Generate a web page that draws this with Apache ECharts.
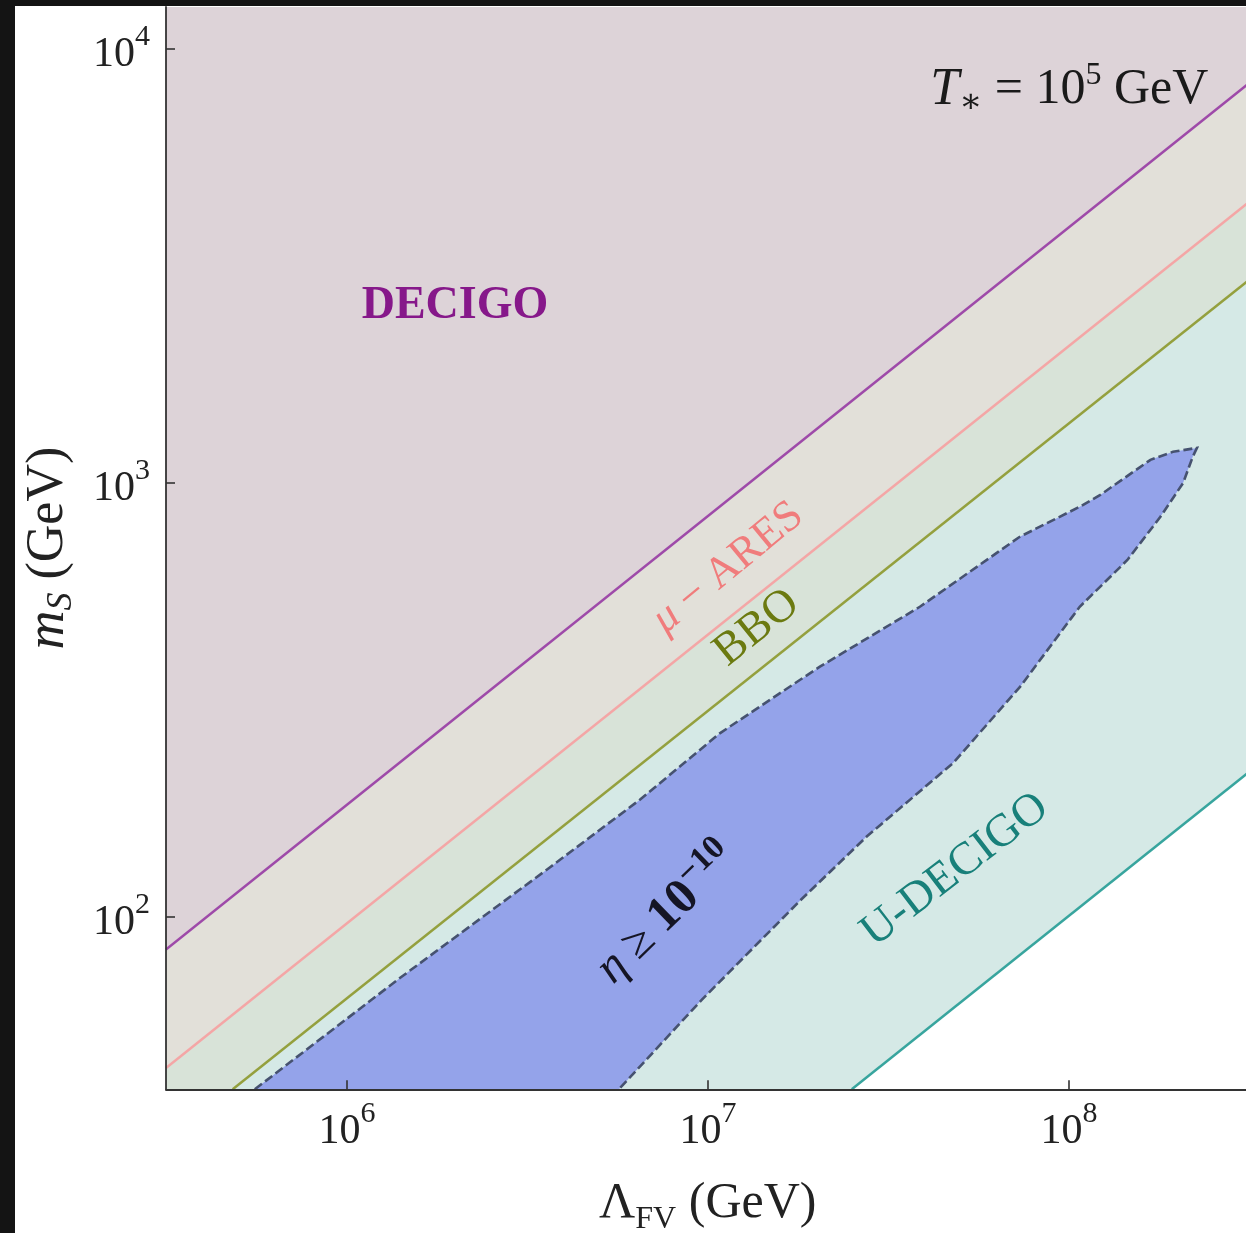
<!DOCTYPE html>
<html><head><meta charset="utf-8">
<script src="https://cdn.jsdelivr.net/npm/echarts@6/dist/echarts.min.js"></script>
<style>
html,body{margin:0;padding:0;background:#141414;width:1246px;height:1233px;overflow:hidden}
#c{position:absolute;left:15px;top:6px;width:1231px;height:1227px;background:#fff}
</style></head><body><div id="c"></div>
<script>
// ---- data ----
const xTicks = [1e6, 1e7, 1e8];
const yTicks = [1e2, 1e3, 1e4];
const xRange = [3.15e5, 3.16e8];
const yRange = [40, 12500];
const decigoLine  = [[3.15e5, 84.0], [3.16e8, 8360]];
const aresLine    = [[3.15e5, 44.8], [3.16e8, 4450]];
const bboLine     = [[4.82e5, 40.0], [3.16e8, 2940]];
const udecigoLine = [[2.50e7, 40.0], [3.16e8, 216]];
const etaUpper = [[5.55e5,40],[1.40e6,72.2],[3.65e6,130],[6.47e6,186],[1.08e7,265],[2.04e7,377],[3.86e7,518],[7.3e7,751],[1.07e8,881],[1.22e8,938],[1.68e8,1130],[1.94e8,1179],[2.26e8,1204]];
const etaLower = [[2.20e8,1148],[2.07e8,1000],[1.79e8,835],[1.45e8,664],[1.07e8,518],[7.3e7,338],[4.77e7,226],[2.75e7,153],[1.80e7,109],[9.6e6,64.3],[5.66e6,40]];

const FONT = "'Liberation Serif', 'DejaVu Serif', serif";
const chart = echarts.init(document.getElementById('c'), null, {renderer: 'canvas'});

function bandPoly(line) {
  const pts = [];
  if (line[0][0] > xRange[0]) pts.push([xRange[0], yRange[0]]);
  line.forEach(p => pts.push(p));
  pts.push([xRange[1], yRange[1]]);
  pts.push([xRange[0], yRange[1]]);
  return pts;
}
function polySeries(pts, fill, z) {
  return {
    type: 'custom', z: z, silent: true, data: [[xRange[0], yRange[0]]],
    renderItem: (params, api) => ({
      type: 'polygon', shape: {points: pts.map(p => api.coord(p))},
      style: {fill: fill, stroke: null}
    })
  };
}
function lineSeries(line, color, z) {
  return {type: 'line', data: line, showSymbol: false, silent: true, z: z,
    lineStyle: {color: color, width: 2.5}, itemStyle: {color: color}};
}
const tickRich = {
  b: {fontFamily: FONT, fontSize: 42, lineHeight: 54, color: '#222', verticalAlign: 'bottom'},
  s: {fontFamily: FONT, fontSize: 30, lineHeight: 30, color: '#222', verticalAlign: 'top'}
};
const tickFmt = v => '{b|10}{s|' + Math.round(Math.log10(v)) + '}';
const axisCol = '#333333';

const option = {
  animation: false,
  backgroundColor: '#ffffff',
  grid: {left: 151, top: 1, width: 1083.5, height: 1082.3, outerBoundsMode: 'none', containLabel: false},
  xAxis: {
    type: 'log', logBase: 10, min: xRange[0], max: xRange[1], z: 20,
    axisLine: {show: true, onZero: false, lineStyle: {color: axisCol, width: 1.8}},
    axisTick: {show: true, inside: true, length: 9, customValues: xTicks, lineStyle: {color: axisCol, width: 1.6}},
    minorTick: {show: false}, splitLine: {show: false}, minorSplitLine: {show: false},
    axisLabel: {show: true, customValues: xTicks, formatter: tickFmt, margin: 10, rich: tickRich},
    name: '{L|Λ}{sub|FV}{r| (GeV)}', nameLocation: 'middle', nameGap: 90,
    nameTextStyle: {fontFamily: FONT, fontSize: 48, color: '#222', rich: {
      L: {fontFamily: FONT, fontSize: 50, lineHeight: 56, color: '#222', verticalAlign: 'top'},
      sub: {fontFamily: FONT, fontSize: 32, lineHeight: 46, color: '#222', verticalAlign: 'bottom'},
      r: {fontFamily: FONT, fontSize: 50, lineHeight: 56, color: '#222', verticalAlign: 'top'}
    }}
  },
  yAxis: {
    type: 'log', logBase: 10, min: yRange[0], max: yRange[1], z: 20,
    axisLine: {show: true, onZero: false, lineStyle: {color: axisCol, width: 1.8}},
    axisTick: {show: true, inside: true, length: 9, customValues: yTicks, lineStyle: {color: axisCol, width: 1.6}},
    minorTick: {show: false}, splitLine: {show: false}, minorSplitLine: {show: false},
    axisLabel: {show: true, customValues: yTicks, formatter: tickFmt, margin: 16, rich: tickRich},
    name: '{m|m}{sub|S}{r| (GeV)}', nameLocation: 'middle', nameGap: 86, nameRotate: 90,
    nameTextStyle: {fontFamily: FONT, fontSize: 50, color: '#222', rich: {
      m: {fontFamily: FONT, fontStyle: 'italic', fontSize: 54, lineHeight: 58, color: '#222', verticalAlign: 'top'},
      sub: {fontFamily: FONT, fontStyle: 'italic', fontSize: 36, lineHeight: 46, color: '#222', verticalAlign: 'bottom'},
      r: {fontFamily: FONT, fontSize: 52, lineHeight: 58, color: '#222', verticalAlign: 'top'}
    }}
  },
  series: [
    polySeries(bandPoly(udecigoLine), '#d5e9e6', 1),
    polySeries(bandPoly(bboLine), '#d8e3d8', 2),
    polySeries(bandPoly(aresLine), '#e2e0d9', 3),
    polySeries(bandPoly(decigoLine), '#ddd3d8', 4),
    polySeries(etaUpper.concat(etaLower), '#94a3ea', 5),
    {
      type: 'custom', z: 6, silent: true, data: [[xRange[0], yRange[0]]],
      renderItem: (params, api) => ({
        type: 'polyline', shape: {points: etaUpper.concat(etaLower).map(p => api.coord(p))},
        style: {fill: null, stroke: '#465270', lineWidth: 2.6, lineDash: [9, 4]}
      })
    },
    lineSeries(udecigoLine, '#38a59e', 7),
    lineSeries(bboLine, '#94a03e', 7),
    lineSeries(aresLine, '#f4a6a6', 7),
    lineSeries(decigoLine, '#9e4aa9', 7)
  ]
};
chart.setOption(option);

// ---- annotations (anchored in data coordinates) ----
const annotations = [
  {at: [1.99e6, 2560], rot: 0, text: 'DECIGO', style: {fontFamily: FONT, fontSize: 46, fontWeight: 'bold', fill: '#86188a'}},
  {at: [1.135e7, 637], rot: 39.4, text: '{mu|μ} − ARES', style: {fontFamily: FONT, fontSize: 44, fill: '#f07c7c',
      rich: {mu: {fontFamily: FONT, fontStyle: 'italic', fontSize: 44, fill: '#f07c7c'}}}},
  {at: [1.365e7, 463], rot: 38.7, text: 'BBO', style: {fontFamily: FONT, fontSize: 46, fill: '#6b7a10'}},
  {at: [4.83e7, 128], rot: 37.5, text: 'U-DECIGO', style: {fontFamily: FONT, fontSize: 46, fill: '#18807a'}},
  {at: [7.59e6, 102.6], rot: 44, text: '{e|η} {g|≥} {b|10}{s|−10}', style: {fontFamily: FONT, fontSize: 46, fill: '#151525',
      rich: {
        e: {fontFamily: FONT, fontStyle: 'italic', fontSize: 48, lineHeight: 56, verticalAlign: 'bottom', fill: '#151525'},
        g: {fontFamily: FONT, fontSize: 48, lineHeight: 56, verticalAlign: 'bottom', fill: '#151525'},
        b: {fontFamily: FONT, fontWeight: 'bold', fontSize: 50, lineHeight: 56, verticalAlign: 'bottom', fill: '#151525'},
        s: {fontFamily: FONT, fontWeight: 'bold', fontSize: 34, lineHeight: 32, verticalAlign: 'top', fill: '#151525'}
      }}},
  {at: [2.43e8, 8050], rot: 0, align: 'right', text: '{t|T}{st|∗} = 10{sp|5} GeV', style: {fontFamily: FONT, fontSize: 50, fill: '#1a1a1a',
      rich: {
        t: {fontFamily: FONT, fontStyle: 'italic', fontSize: 52, lineHeight: 60, verticalAlign: 'middle', fill: '#1a1a1a'},
        st: {fontFamily: FONT, fontSize: 34, lineHeight: 34, verticalAlign: 'bottom', fill: '#1a1a1a'},
        sp: {fontFamily: FONT, fontSize: 32, lineHeight: 32, verticalAlign: 'top', fill: '#1a1a1a'}
      }}}
];
const graphics = annotations.map(a => {
  const p = chart.convertToPixel({gridIndex: 0}, a.at);
  return {
    type: 'text', x: p[0], y: p[1], rotation: a.rot * Math.PI / 180, z: 100, silent: true,
    style: Object.assign({text: a.text, align: a.align || 'center', verticalAlign: 'middle'}, a.style)
  };
});
chart.setOption({graphic: graphics});
</script></body></html>
